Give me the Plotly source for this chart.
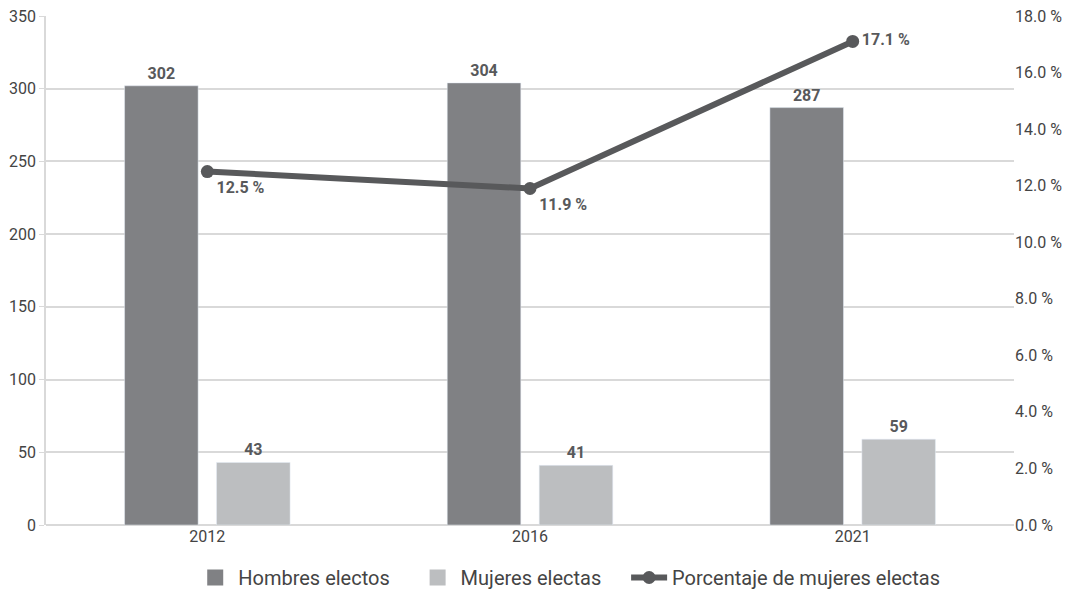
import plotly.graph_objects as go

years = ["2012", "2016", "2021"]
hombres = [302, 304, 287]
mujeres = [43, 41, 59]
porcentaje = [12.5, 11.9, 17.1]
pct_labels = ["12.5 %", "11.9 %", "17.1 %"]
pct_positions = ["bottom right", "bottom right", "middle right"]
series_names = ["Hombres electos", "Mujeres electas", "Porcentaje de mujeres electas"]

FONT = "Roboto, sans-serif"
C_H = "#808184"
C_M = "#bcbec0"
C_L = "#58595b"
LBL = dict(family=FONT, size=16, color=C_L, weight="bold")
PAD = "\u00a0" * 4

fig = go.Figure()
fig.add_trace(go.Bar(
    x=years, y=hombres, name=series_names[0], marker_color=C_H, showlegend=False,
    text=[str(v) for v in hombres], textposition="outside",
    textfont=LBL, cliponaxis=False,
))
fig.add_trace(go.Bar(
    x=years, y=mujeres, name=series_names[1], marker_color=C_M, showlegend=False,
    text=[str(v) for v in mujeres], textposition="outside",
    textfont=LBL, cliponaxis=False,
))
# legend swatches for the bar series
for nm, col in [(series_names[0], C_H), (series_names[1], C_M)]:
    fig.add_trace(go.Scatter(
        x=[None], y=[None], mode="markers", name=nm + PAD,
        marker=dict(symbol="square", size=20, color=col),
    ))
fig.add_trace(go.Scatter(
    x=years, y=porcentaje, name=series_names[2], yaxis="y2",
    mode="lines+markers+text", line=dict(color=C_L, width=6),
    marker=dict(color=C_L, size=13), text=pct_labels,
    textposition=pct_positions,
    textfont=LBL, cliponaxis=False,
))

fig.update_layout(
    width=1070, height=597,
    margin=dict(l=46, r=56, t=16, b=72),
    paper_bgcolor="white", plot_bgcolor="white",
    font=dict(family=FONT, size=16, color="#444"),
    barmode="group", bargap=0.43, bargroupgap=0.2,
    xaxis=dict(showgrid=False, showline=False, ticks="", automargin=False,
               tickfont=dict(size=16, color="#444")),
    yaxis=dict(range=[0, 350], dtick=50, showgrid=True, gridcolor="#d9d9d9", gridwidth=1.5,
               showline=True, linecolor="#d9d9d9", linewidth=1.5, ticks="outside",
               tickcolor="#d9d9d9", ticklen=5, zeroline=True, zerolinecolor="#d9d9d9",
               zerolinewidth=1.5, automargin=False, tickfont=dict(size=16, color="#444")),
    yaxis2=dict(range=[0, 18], dtick=2, overlaying="y", side="right", showgrid=False,
                showline=False, zeroline=False, tickformat=".1f", ticksuffix=" %",
                automargin=False, tickfont=dict(size=16, color="#444")),
    legend=dict(orientation="h", x=0.54, xanchor="center", yref="container",
                y=0.0, yanchor="bottom", itemsizing="trace",
                font=dict(size=20, color="#444"), itemwidth=36, traceorder="normal"),
)

fig.write_html("out.html")
